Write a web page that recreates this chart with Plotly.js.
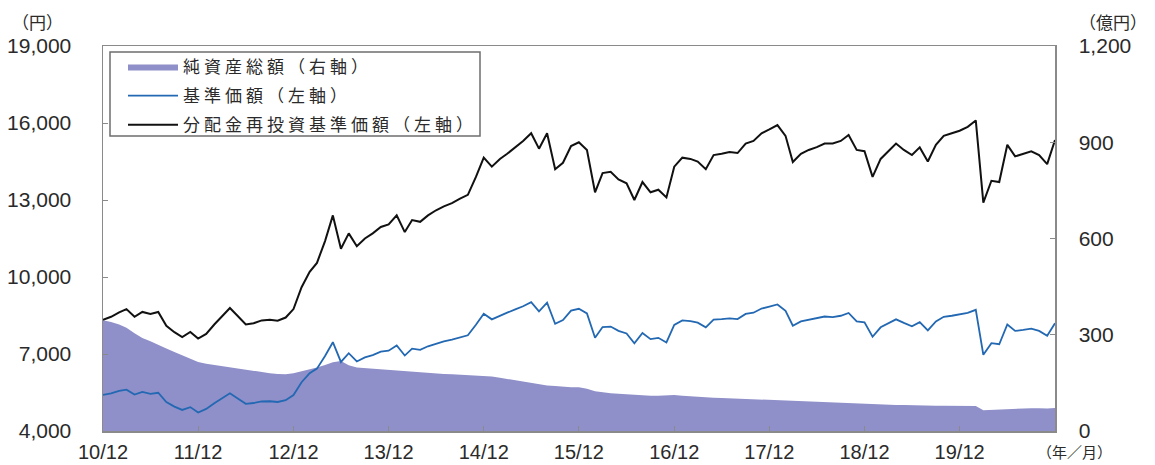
<!DOCTYPE html>
<html>
<head>
<meta charset="utf-8">
<script src="https://cdn.plot.ly/plotly-3.0.1.min.js"></script>
<style>
html,body{margin:0;padding:0;background:#fff;}
#chart{width:1155px;height:465px;}
.legendtext{letter-spacing:4px;}
</style>
</head>
<body>
<div id="chart"></div>
<script>
// Month axis: 2010/12 .. 2020/12 (121 months)
const startYear = 2010;
const startMonth = 12;
const monthCount = 121;

const tickDates = ['2010-12-01','2011-12-01','2012-12-01','2013-12-01','2014-12-01',
                   '2015-12-01','2016-12-01','2017-12-01','2018-12-01','2019-12-01'];
const tickLabels = ['10/12','11/12','12/12','13/12','14/12','15/12','16/12','17/12','18/12','19/12'];

const leftTicks = [4000, 7000, 10000, 13000, 16000, 19000];
const rightTicks = [0, 300, 600, 900, 1200];

// 純資産総額 (億円, right axis)
const netAssets = [
  345,340,332,322,305,290,280,268,257,246,
  235,225,215,210,206,203,200,194,190,186,
  183,180,178,177,180,186,192,198,206,214,
  218,205,198,196,194,192,190,190,187,186,
  184,182,180,178,177,176,174,173,172,170,
  166,162,158,153,150,145,142,140,137,136,
  136,132,124,120,118,116,114,112,111,110,
  110,111,112,110,108,106,105,104,103,102,
  101,100,99,98,97,96,95,93,92,91,
  90,89,88,87,86,85,84,82,82,82,
  81,81,80,80,79,79,79,79,79,79,
  78,65,66,67,70,70,70,71,71,70,
  72
];

// 基準価額 (円, left axis)
const navPrice = [
  5410,5470,5560,5610,5420,5520,5450,5490,5130,4950,
  4820,4930,4720,4860,5080,5260,5470,5270,5060,5090,
  5150,5160,5130,5200,5400,5900,6250,6430,6920,7460,
  6690,7030,6710,6870,6960,7090,7130,7330,6940,7210,
  7160,7300,7410,7490,7560,7650,7730,8140,8570,8350,
  8500,8610,8740,8860,9020,8660,9000,8180,8320,8690,
  8760,8580,7630,8050,8070,7900,7800,7420,7820,7580,
  7630,7450,8130,8310,8280,8220,8040,8340,8360,8390,
  8360,8560,8610,8770,8850,8930,8680,8100,8270,8340,
  8390,8460,8440,8490,8600,8270,8230,7670,8040,8200,
  8350,8210,8080,8240,7920,8270,8450,8490,8530,8600,
  8720,6970,7420,7380,8150,7900,7940,7990,7900,7710,
  8200
];

// 分配金再投資基準価額 (円, left axis)
const reinvestPrice = [
  8330,8450,8620,8750,8450,8640,8560,8640,8100,7850,
  7660,7860,7600,7780,8150,8440,8790,8480,8150,8200,
  8310,8330,8300,8420,8750,9600,10200,10550,11400,12400,
  11100,11700,11200,11500,11700,11950,12050,12400,11750,12220,
  12150,12400,12600,12750,12880,13050,13200,13900,14650,14300,
  14600,14800,15050,15300,15600,15000,15600,14200,14450,15100,
  15250,14950,13300,14050,14100,13800,13650,13000,13700,13300,
  13400,13100,14300,14650,14600,14500,14200,14750,14800,14870,
  14830,15200,15300,15600,15750,15920,15500,14480,14800,14950,
  15060,15200,15200,15300,15530,14950,14900,13900,14600,14900,
  15200,14950,14750,15050,14500,15150,15500,15600,15700,15850,
  16100,12900,13750,13700,15150,14700,14800,14900,14750,14400,
  15340
];

const months = [];
for (let i = 0; i < monthCount; i++) {
  const t = (startMonth - 1) + i;
  const y = startYear + Math.floor(t / 12);
  const m = (t % 12) + 1;
  months.push(y + '-' + String(m).padStart(2, '0') + '-01');
}

const numFont = 'Liberation Sans, Arial, Noto Sans CJK JP, sans-serif';
const jpFont = 'Noto Sans CJK JP, sans-serif';
const textColor = '#2a2a2a';
const frameColor = '#8a8a8a';

const traces = [
  {
    x: months, y: netAssets, name: '純資産総額（右軸）', legendgroup: 'g1',
    type: 'scatter', mode: 'lines', fill: 'tozeroy',
    line: {width: 0, color: '#8f8fc9'}, fillcolor: '#8f8fc9',
    xaxis: 'x', yaxis: 'y', hoverinfo: 'skip'
  },
  {
    x: months, y: navPrice, name: '基準価額（左軸）', legendgroup: 'g2',
    type: 'scatter', mode: 'lines',
    line: {width: 1.8, color: '#2368b2'},
    xaxis: 'x', yaxis: 'y2', hoverinfo: 'skip'
  },
  {
    x: months, y: reinvestPrice, name: '分配金再投資基準価額（左軸）', legendgroup: 'g3',
    type: 'scatter', mode: 'lines',
    line: {width: 2, color: '#111111'},
    xaxis: 'x', yaxis: 'y2', hoverinfo: 'skip'
  }
];

const W = 1155, H = 465, L = 103, R = 100, T = 46, B = 34;
const pw = W - L - R, ph = H - T - B;
const px = v => (v - L) / pw;
const py = v => (H - B - v) / ph;

const layout = {
  width: W, height: H,
  margin: {l: L, r: R, t: T, b: B, pad: 0},
  paper_bgcolor: '#fff', plot_bgcolor: '#fff',
  showlegend: true,
  legend: {
    x: px(123), y: py(49), xanchor: 'left', yanchor: 'top',
    bgcolor: 'rgba(0,0,0,0)', borderwidth: 0,
    font: {family: jpFont, size: 17, color: textColor},
    itemwidth: 50, traceorder: 'grouped', tracegroupgap: 4
  },
  xaxis: {
    type: 'date', range: ['2010-12-01', '2020-12-01'],
    tickmode: 'array', tickvals: tickDates, ticktext: tickLabels,
    ticks: 'inside', ticklen: 5, tickwidth: 1, tickcolor: frameColor,
    showline: true, linecolor: frameColor, linewidth: 1.5, mirror: true,
    showgrid: false, zeroline: false,
    tickfont: {family: numFont, size: 20, color: textColor},
    ticklabelstandoff: 2, fixedrange: true
  },
  yaxis: {
    side: 'right', range: [0, 1200],
    tickmode: 'array', tickvals: rightTicks, tickformat: ',d',
    ticks: 'inside', ticklen: 5, tickwidth: 1, tickcolor: frameColor,
    showline: true, linecolor: frameColor, linewidth: 1.5,
    showgrid: false, zeroline: false,
    tickfont: {family: numFont, size: 21, color: textColor},
    ticklabelstandoff: 18, fixedrange: true
  },
  yaxis2: {
    side: 'left', overlaying: 'y', range: [4000, 19000],
    tickmode: 'array', tickvals: leftTicks, tickformat: ',d',
    ticks: 'inside', ticklen: 5, tickwidth: 1, tickcolor: frameColor,
    showline: true, linecolor: frameColor, linewidth: 1.5,
    showgrid: false, zeroline: false,
    tickfont: {family: numFont, size: 21, color: textColor},
    ticklabelstandoff: 26, fixedrange: true
  },
  shapes: [
    {type: 'rect', xref: 'paper', yref: 'paper',
     x0: px(110), x1: px(480), y0: py(136), y1: py(52),
     line: {color: '#6e6e6e', width: 1.5}, fillcolor: 'rgba(255,255,255,0.9)', layer: 'above'}
  ],
  annotations: [
    {text: '（円）', xref: 'paper', yref: 'paper', x: px(37), y: py(22),
     xanchor: 'center', yanchor: 'middle', showarrow: false,
     font: {family: jpFont, size: 17, color: textColor}},
    {text: '（億円）', xref: 'paper', yref: 'paper', x: px(1113), y: py(21),
     xanchor: 'center', yanchor: 'middle', showarrow: false,
     font: {family: jpFont, size: 17, color: textColor}},
    {text: '（年／月）', xref: 'paper', yref: 'paper', x: px(1074), y: py(464),
     xanchor: 'center', yanchor: 'bottom', showarrow: false,
     font: {family: jpFont, size: 15, color: textColor}}
  ]
};

Plotly.newPlot('chart', traces, layout, {displayModeBar: false, staticPlot: true});
</script>
</body>
</html>
